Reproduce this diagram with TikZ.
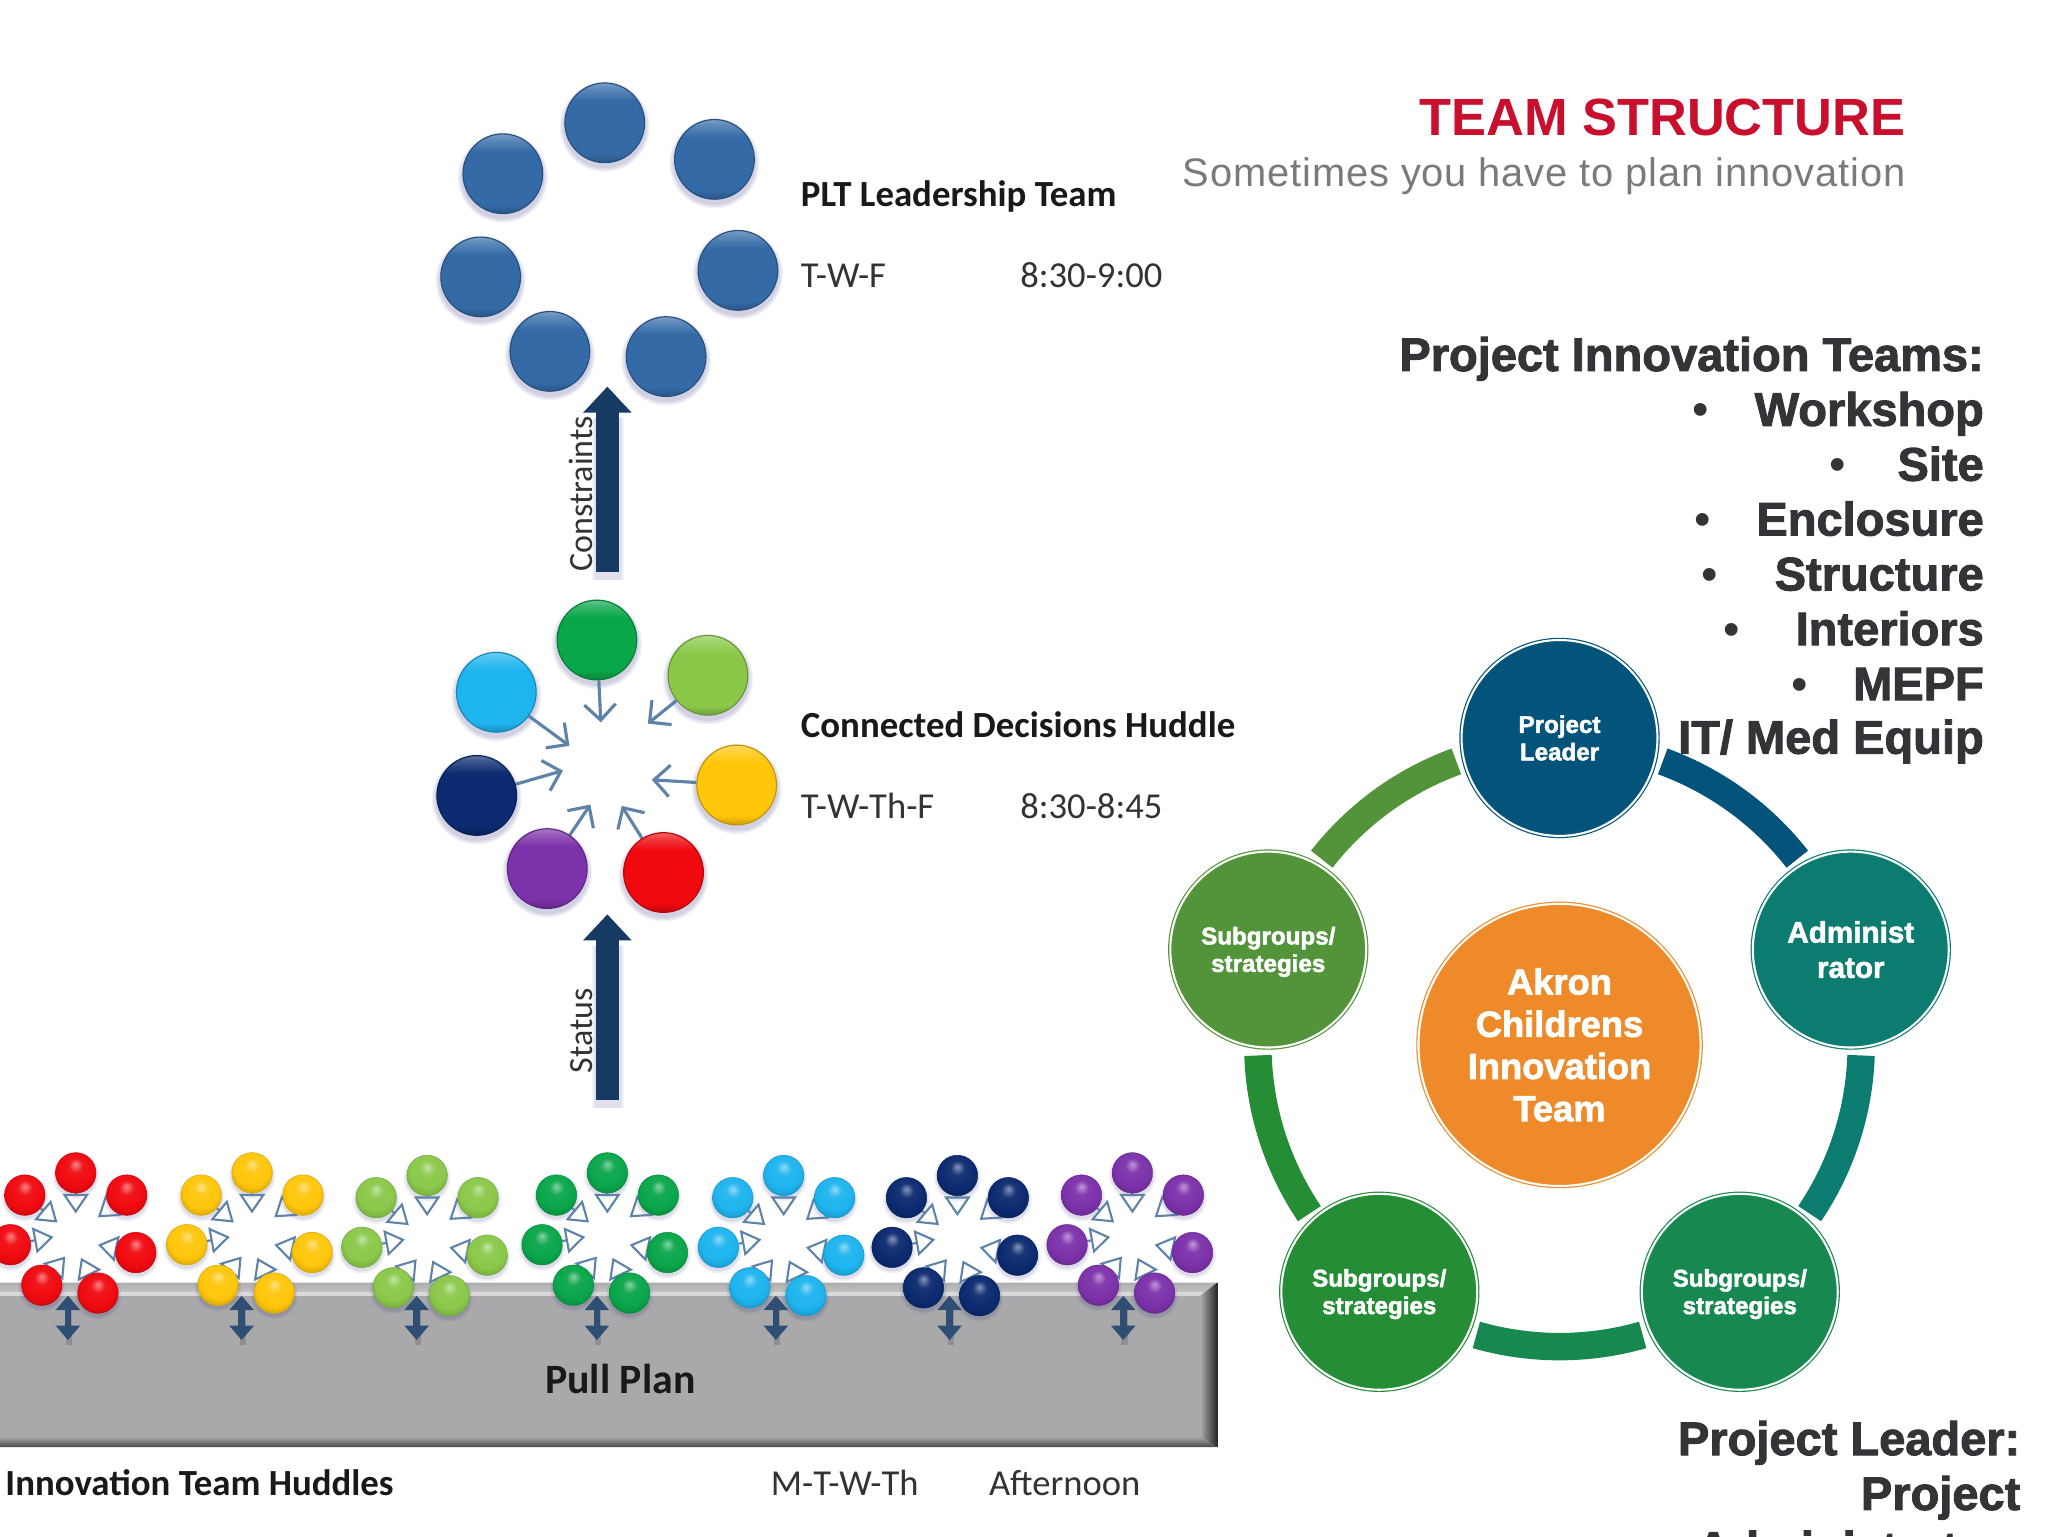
\documentclass[tikz,border=0pt]{standalone}
\usepackage{fontspec}
\usetikzlibrary{arrows.meta,calc,shapes.geometric}
\setmainfont{Liberation Sans}
\newfontfamily\calib{Carlito}
\newfontfamily\heavy[UprightFont={* Bold},FakeBold=2]{Liberation Sans}
\newfontfamily\subf[LetterSpace=2.2]{Liberation Sans}
\definecolor{bred}{HTML}{F00A10}
\definecolor{byel}{HTML}{FFC60A}
\definecolor{blim}{HTML}{8BC84A}
\definecolor{bgrn}{HTML}{0AA64A}
\definecolor{bcya}{HTML}{1EB4EE}
\definecolor{bnav}{HTML}{0C2A70}
\definecolor{bpur}{HTML}{7C32AA}
\definecolor{bblu}{HTML}{346BA7}
\definecolor{basecol}{HTML}{346BA7}
\definecolor{navyarrow}{HTML}{173A63}
\definecolor{thin}{HTML}{5E82A8}
\definecolor{heavytext}{HTML}{333338}
\definecolor{cleader}{HTML}{03537A}
\definecolor{cadmin}{HTML}{0C7C70}
\definecolor{csubr}{HTML}{178850}
\definecolor{csubl}{HTML}{258D35}
\definecolor{csubt}{HTML}{53943A}
\definecolor{corange}{HTML}{EE8A29}
\definecolor{slab}{HTML}{A9A9AC}
\pgfdeclareverticalshading[basecol]{bigball}{100bp}{color(0bp)=(basecol!80!black); color(25bp)=(basecol!80!black); color(31bp)=(basecol); color(64bp)=(basecol); color(72bp)=(basecol!78!white); color(75bp)=(basecol!65!white); color(100bp)=(basecol!65!white)}
\pgfdeclareradialshading[basecol]{miniball}{\pgfpoint{0bp}{11bp}}{color(0bp)=(basecol!50!white); color(9bp)=(basecol!95!white); color(22bp)=(basecol); color(32bp)=(basecol!82!black); color(50bp)=(basecol!75!black)}
\pgfdeclarelayer{under}
\pgfdeclarelayer{arrowlayer}
\pgfdeclarelayer{front}
\pgfsetlayers{under,arrowlayer,main,front}
\tikzset{
 sphere/.style={circle,inner sep=0,/utils/exec={\colorlet{basecol}{#1}},shading=bigball,shading angle=0,draw=#1!75!black,line width=.9pt},
 minisphere/.style={circle,inner sep=0,minimum size=31pt,/utils/exec={\colorlet{basecol}{#1}},shading=miniball,draw=#1!85!black,line width=.4pt},
 thinarrow/.style={draw=thin,line width=2.4pt,-{Straight Barb[length=12pt,width=24pt,line width=2.4pt]}},
 miniarrow/.style={draw=thin,line width=1.6pt,-{Triangle[open,length=15pt,width=20pt,line width=1.6pt]}},
 bigarrow/.style={draw=navyarrow,line width=18pt,-{Triangle[length=20pt,width=36pt]}},
 dblarrow/.style={draw=navyarrow!90!white,line width=5pt,{Triangle[length=11pt,width=18pt]}-{Triangle[length=11pt,width=18pt]}},
 labelb/.style={inner sep=0,anchor=base west,font=\calib\bfseries\fontsize{28.2}{30}\selectfont,text=black!90},
 labelr/.style={inner sep=0,anchor=base west,font=\calib\fontsize{28}{30}\selectfont,text=black!80},
 rotl/.style={inner sep=0,rotate=90,font=\calib\fontsize{26}{30}\selectfont,text=black!80},
 listt/.style={inner sep=0,anchor=base east,font=\heavy\fontsize{36}{40}\selectfont,text=heavytext},
 bull/.style={inner sep=0,anchor=base,font=\fontsize{36}{40}\selectfont,text=heavytext},
 hubc/.style={circle,inner sep=0,minimum size=#1},
 ringed/.style={fill=#1,draw=#1,double=white,double distance=1.6pt,line width=.9pt},
 ringseg/.style={draw=#1,line width=21pt},
 smalltext/.style={text=white,align=center,font=\heavy\fontsize{18.5}{21}\selectfont},
}
\newcommand{\ballat}[5]{%
 \begin{pgfonlayer}{under}
 \foreach \dd/\op in {4/.05,3/.06,1.5/.08}{\fill[black!60!blue,opacity=\op] (#2,#3+3) circle [radius=#4+\dd];}
 \end{pgfonlayer}
 \node[sphere=#5,minimum size=2*#4 pt] (#1) at (#2,#3) {};
}
\begin{document}
\begin{tikzpicture}[x=1pt,y=-1pt]
\useasboundingbox (0,0) rectangle (1568,1176);
% Pull-plan slab
\begin{pgfonlayer}{under}
\fill[white] (0,0) rectangle (1568,1176);
\coordinate (sTL) at (-2,982); \coordinate (sTR) at (932,982);
\coordinate (sBL) at (-2,1108); \coordinate (sBR) at (932,1108);
\fill[slab] (sTL) rectangle (sBR);
\path[top color=black!32,bottom color=black!20] (sTL) -- (sTR) -- (919,992) -- (-2,992) -- cycle;
\fill[black!15] (-2,989.5) rectangle (921,992.5);
\path[top color=slab,bottom color=black!72] (-2,1100) -- (919,1100) -- (sBR) -- (sBL) -- cycle;
\path[left color=slab,right color=black!85] (919,992) -- (sTR) -- (sBR) -- (919,1100) -- cycle;
\end{pgfonlayer}
% Leadership team
\foreach \n/\x/\y in {a/463/94,b/547/122,c/385/133,d/368/212,e/565/207,f/421/269,g/510/273}
  {\ballat{pl\n}{\x}{\y}{30.5}{bblu}}
% Connected decisions huddle
\ballat{mgrn}{457}{490}{30.5}{bgrn}
\ballat{mlim}{542}{517}{30.5}{blim}
\ballat{mcya}{380}{530}{30.5}{bcya}
\ballat{mnav}{365}{609}{30.5}{bnav}
\ballat{myel}{564}{601}{30.5}{byel}
\ballat{mpur}{419}{665}{30.5}{bpur}
\ballat{mred}{508}{668}{30.5}{bred}
\coordinate (tgrn) at (460,553); \coordinate (tlim) at (496,554);
\coordinate (tcya) at (436,571); \coordinate (tnav) at (431,590);
\coordinate (tyel) at (499,597); \coordinate (tpur) at (452,616);
\coordinate (tred) at (476,617);
\begin{pgfonlayer}{arrowlayer}
\foreach \n in {grn,lim,cya,nav,yel,pur,red}{\draw[thinarrow] (m\n) -- (t\n);}
\end{pgfonlayer}
% Big arrows
\coordinate (c0) at (465,438); \coordinate (c1) at (465,296);
\coordinate (s0) at (465,842); \coordinate (s1) at (465,700);
\begin{pgfonlayer}{under}
\foreach \q in {c,s}{
 \foreach \w/\op in {12/.05,10/.07}{
 \fill[black!60!blue,opacity=\op] ($(\q0)+(-\w,6)$) -- ($(\q0)+(\w+1,6)$) -- ($(\q1)+(\w+1,24)$) -- ($(\q1)+(-\w,24)$) -- cycle;}
}
\end{pgfonlayer}
\draw[bigarrow] (c0) -- (c1);
\draw[bigarrow] (s0) -- (s1);
\node[rotl] (lcons) at (445,378) {Constraints};
\node[rotl] (lstat) at (445,789) {Status};
% Huddle clusters
\foreach \k/\cx/\cy/\col/\ax in {a/58/898/bred/52,b/193/898/byel/185,c/327/900/blim/319,d/465/898/bgrn/457,e/600/900/bcya/594,f/733/900/bnav/727,g/867/898/bpur/860}{
  \coordinate (k\k) at (\cx,\cy);
  \foreach \n/\dx/\dy/\tx/\ty in {1/0/0/0/31,2/39/17/17/34,3/-39/17/-14/38,4/-50/55/-17/49,5/46/61/17/55,6/-26/86/-8/64,7/17/92/4/65}{
    \begin{pgfonlayer}{arrowlayer}
    \foreach \dd/\op in {3/.06,1.5/.08}{\fill[black!60!blue,opacity=\op] ($(k\k)+(\dx,\dy+2)$) circle [radius=15+\dd];}
    \end{pgfonlayer}
    \node[minisphere=\col] (h\k\n) at ($(k\k)+(\dx,\dy)$) {};
    \coordinate (p\k\n) at ($(k\k)+(\tx,\ty)$);
    \begin{pgfonlayer}{arrowlayer}
    \draw[miniarrow] (h\k\n) -- (p\k\n);
    \end{pgfonlayer}
  }
  \coordinate (da\k) at (\ax,992); \coordinate (db\k) at (\ax,1026);
  \begin{pgfonlayer}{front}
  \draw[black,opacity=.15,line width=5pt] ($(db\k)+(1,4)$) -- ($(da\k)+(1,4)$);
  \draw[dblarrow] (da\k) -- (db\k);
  \end{pgfonlayer}
}
% Left-hand labels
\node[labelb] (lplt) at (613,158) {PLT Leadership Team};
\node[labelr] (lplt1) at (613,220) {T-W-F};
\node[labelr] (lplt2) at (781,220) {8:30-9:00};
\node[labelb] (lcd) at (613,565) {Connected Decisions Huddle};
\node[labelr] (lcd1) at (613,627) {T-W-Th-F};
\node[labelr] (lcd2) at (781,627) {8:30-8:45};
\node[labelb,anchor=base,font=\calib\bfseries\fontsize{32}{34}\selectfont] (lpull) at (475,1067) {Pull Plan};
\node[labelb] (linn) at (4,1145) {Innovation Team Huddles};
\node[labelr] (linn1) at (590,1145) {M-T-W-Th};
\node[labelr] (linn2) at (757,1145) {Afternoon};
% Title
\node[inner sep=0,anchor=base east,font=\bfseries\fontsize{40.1}{44}\selectfont,text={rgb,255:red,200;green,16;blue,46}] (title) at (1459,104) {TEAM STRUCTURE};
\node[inner sep=0,anchor=base east,font=\subf\fontsize{30.5}{34}\selectfont,text=black!52] (subt) at (1459,143) {Sometimes you have to plan innovation};
% Right list
\node[listt] (li0) at (1519,284) {Project Innovation Teams:};
\foreach \n/\y/\bx/\t in {1/326/1302/Workshop,2/368/1407/Site,3/410/1304/Enclosure,4/452/1309/Structure,5/494/1326/Interiors,6/536/1378/MEPF}{
  \node[listt] (li\n) at (1519,\y) {\t};
  \node[bull] (bu\n) at (\bx,\y) {•};
}
\node[listt] (li7) at (1519,577) {IT/ Med Equip};
\node[listt] (pl0) at (1547,1114) {Project Leader:};
\node[listt] (pl1) at (1547,1156) {Project};
\node[listt] (pl2) at (1547,1198) {Administrator:};
% Hub and spokes
\node[hubc=216pt,ringed=corange,text=white,align=center,font=\heavy\fontsize{27.8}{32.3}\selectfont] (hub) at (1194,800) {Akron\\Childrens\\Innovation\\Team};
\node[hubc=150pt,ringed=cleader,smalltext] (nlead) at (1194,565) {Project\\Leader};
\node[hubc=150pt,ringed=cadmin,smalltext,font=\heavy\fontsize{22.7}{27}\selectfont] (nadm) at (1417,727) {Administ\\rator};
\node[hubc=150pt,ringed=csubr,smalltext] (nsr) at (1332,989) {\rule{0pt}{17pt}Subgroups/\\strategies};
\node[hubc=150pt,ringed=csubl,smalltext] (nsl) at (1056,989) {\rule{0pt}{17pt}Subgroups/\\strategies};
\node[hubc=150pt,ringed=csubt,smalltext] (nst) at (971,727) {\rule{0pt}{17pt}Subgroups/\\strategies};
\draw[ringseg=cleader] ($(hub.center)+(-70:231)$) arc (-70:-38:231);
\draw[ringseg=cadmin] ($(hub.center)+(2:231)$) arc (2:34:231);
\draw[ringseg=csubr] ($(hub.center)+(74:231)$) arc (74:106:231);
\draw[ringseg=csubl] ($(hub.center)+(146:231)$) arc (146:178:231);
\draw[ringseg=csubt] ($(hub.center)+(-142:231)$) arc (-142:-110:231);
\end{tikzpicture}
\end{document}
